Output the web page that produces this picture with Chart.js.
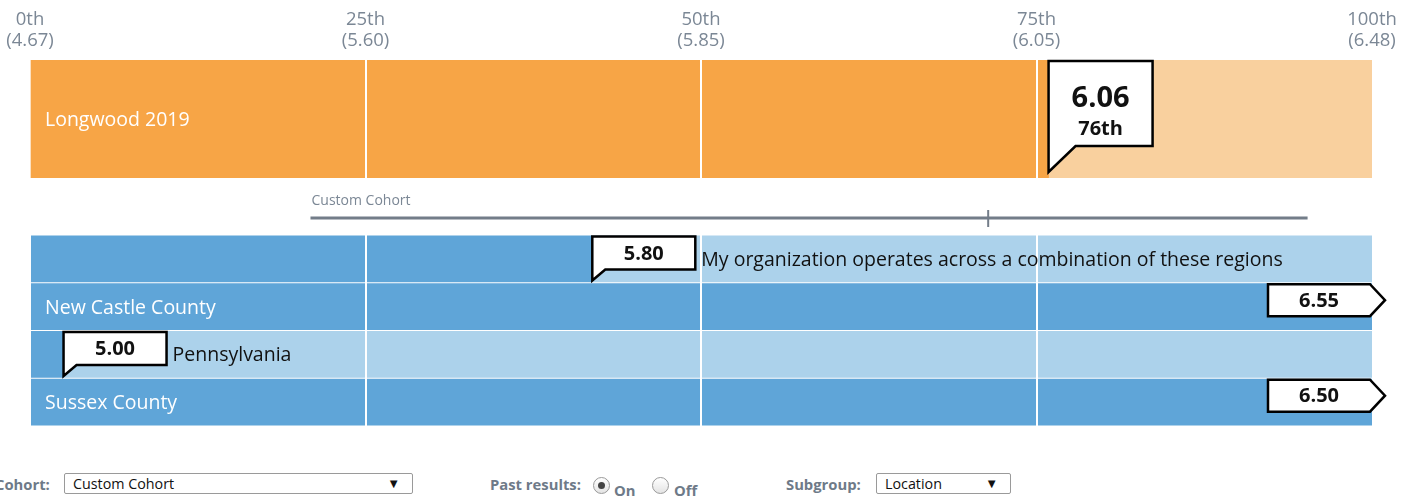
<!DOCTYPE html>
<html>
<head>
<meta charset="utf-8">
<script src="https://cdn.jsdelivr.net/npm/chart.js@4"></script>
<style>
  body { margin: 0; width: 1411px; height: 497px; overflow: hidden; background: #fff; font-family: "Open Sans", sans-serif; position: relative; }
  .wrap { position: absolute; left: 0; width: 1411px; }
  .ctl-label { position: absolute; font-size: 14.8px; font-weight: bold; color: #6e7a88; top: 474px; }
  .sel { position: absolute; top: 473px; height: 19px; border: 1px solid #9a9a9a; border-radius: 2px; font-size: 14.3px; line-height: 19px; color: #111; padding-left: 8px; box-sizing: content-box; }
  .sel span { position: absolute; right: 12px; top: 0; font-size: 13px; }
  .radio { position: absolute; top: 477px; width: 15px; height: 15px; border-radius: 50%; border: 1px solid #9a9a9a; background: linear-gradient(#fff, #e4e4e4); }
  .radio.on::after { content: ""; position: absolute; left: 4px; top: 4px; width: 7px; height: 7px; border-radius: 50%; background: #444; }
</style>
</head>
<body>
<div class="wrap" style="top:0;height:178px"><canvas id="orgChart"></canvas></div>
<div class="wrap" style="top:178px;height:248px"><canvas id="cohortChart"></canvas></div>

<div class="ctl-label" style="left:-5px">Cohort:</div>
<div class="sel" style="left:64px;width:339px">Custom Cohort<span>&#9660;</span></div>
<div class="ctl-label" style="left:490px">Past results:</div>
<div class="radio on" style="left:593px"></div>
<div class="ctl-label" style="left:614px;top:480px">On</div>
<div class="radio" style="left:652px"></div>
<div class="ctl-label" style="left:674px;top:480px">Off</div>
<div class="ctl-label" style="left:786px">Subgroup:</div>
<div class="sel" style="left:876px;width:125px">Location<span>&#9660;</span></div>

<script>
// percentile axis
const percentileTicks = [0, 25, 50, 75, 100];
const tickScores = ["4.67", "5.60", "5.85", "6.05", "6.48"];

// organisation bar
const orgLabel = "Longwood 2019";
const orgScore = 6.06;
const orgPercentile = 75.9;

// cohort range line (in percentile units)
const cohortName = "Custom Cohort";
const cohortRange = [20.9, 95.2];
const cohortMarker = 71.4;

// subgroup rows
const rowLabels = [
    "My organization operates across a combination of these regions",
    "New Castle County",
    "Pennsylvania",
    "Sussex County",
];
const rowScores = [5.80, 6.55, 5.00, 6.50];
const rowPercentiles = [41.9, 100, 2.5, 100];

const FONT = '"Open Sans", sans-serif';
const GRAY = "#7b8795";

function quartileGrid(ctx) {
    const v = ctx.tick ? ctx.tick.value : -1;
    return v > 0 && v < 100 ? "#ffffff" : "rgba(0,0,0,0)";
}

// callout with a tail pointing down-left at tipX
function drawTailCallout(c, tipX, top, w, h, tailH, tailW, lines) {
    c.save();
    c.beginPath();
    c.moveTo(tipX, top);
    c.lineTo(tipX + w, top);
    c.lineTo(tipX + w, top + h);
    c.lineTo(tipX + tailW, top + h);
    c.lineTo(tipX, top + h + tailH);
    c.closePath();
    c.fillStyle = "#fff";
    c.fill();
    c.lineWidth = 2.5;
    c.strokeStyle = "#000";
    c.lineJoin = "miter";
    c.stroke();
    c.fillStyle = "#111";
    c.textAlign = "center";
    c.textBaseline = "middle";
    lines.forEach(l => {
        c.font = "bold " + l.size + "px " + FONT;
        c.fillText(l.text, tipX + w / 2, top + l.dy);
    });
    c.restore();
}

// callout with an arrow pointing right (value beyond the axis)
function drawArrowCallout(c, right, top, w, h, text) {
    c.save();
    c.beginPath();
    c.moveTo(right - w, top);
    c.lineTo(right, top);
    c.lineTo(right + 15, top + h / 2);
    c.lineTo(right, top + h);
    c.lineTo(right - w, top + h);
    c.closePath();
    c.fillStyle = "#fff";
    c.fill();
    c.lineWidth = 2.5;
    c.strokeStyle = "#000";
    c.stroke();
    c.fillStyle = "#111";
    c.font = "bold 20px " + FONT;
    c.textAlign = "center";
    c.textBaseline = "middle";
    c.fillText(text, right - w / 2, top + h / 2 + 1);
    c.restore();
}

const orgPlugin = {
    id: "orgLabels",
    afterDraw(chart) {
        const c = chart.ctx;
        const area = chart.chartArea;
        const xs = chart.scales.x;
        const el = chart.getDatasetMeta(0).data[0];
        c.save();
        c.fillStyle = "#fff";
        c.font = "19.5px " + FONT;
        c.textBaseline = "middle";
        c.fillText(orgLabel, area.left + 15, el.y + 1);
        c.restore();
        const tipX = xs.getPixelForValue(orgPercentile);
        drawTailCallout(c, tipX, area.top + 1, 104, 85, 26, 27, [
            { text: orgScore.toFixed(2), size: 29, dy: 38 },
            { text: Math.round(orgPercentile) + "th", size: 20, dy: 68 },
        ]);
    },
};

const cohortPlugin = {
    id: "cohortLabels",
    afterDraw(chart) {
        const c = chart.ctx;
        const area = chart.chartArea;
        const xs = chart.scales.x;
        // cohort range line above the rows
        const x0 = xs.getPixelForValue(cohortRange[0]);
        const x1 = xs.getPixelForValue(cohortRange[1]);
        const xm = xs.getPixelForValue(cohortMarker);
        const ly = area.top - 17;
        c.save();
        c.fillStyle = GRAY;
        c.font = "14px " + FONT;
        c.textBaseline = "middle";
        c.fillText(cohortName, x0 + 1, area.top - 34);
        c.strokeStyle = "#737d89";
        c.lineWidth = 3;
        c.beginPath();
        c.moveTo(x0, ly);
        c.lineTo(x1, ly);
        c.stroke();
        c.lineWidth = 2;
        c.beginPath();
        c.moveTo(xm, ly - 8);
        c.lineTo(xm, ly + 9);
        c.stroke();
        c.restore();

        const meta = chart.getDatasetMeta(0);
        const maxScore = parseFloat(tickScores[tickScores.length - 1]);
        rowLabels.forEach((label, i) => {
            const el = meta.data[i];
            const rowTop = el.y - el.height / 2;
            const tipX = xs.getPixelForValue(Math.min(rowPercentiles[i], 100));
            const arrow = rowScores[i] > maxScore;
            let boxLeft, boxRight;
            if (arrow) {
                drawArrowCallout(c, area.right - 2, rowTop + 1, 102, 32, rowScores[i].toFixed(2));
                boxLeft = area.right - 104;
                boxRight = area.right;
            } else {
                drawTailCallout(c, tipX, rowTop + 1, 103, 33, 11, 13, [
                    { text: rowScores[i].toFixed(2), size: 20, dy: 17.5 },
                ]);
                boxLeft = tipX;
                boxRight = tipX + 103;
            }
            c.save();
            c.font = "19.5px " + FONT;
            c.textBaseline = "middle";
            const w = c.measureText(label).width;
            const inside = area.left + 15 + w + 10 < boxLeft;
            if (inside) {
                c.fillStyle = "#fff";
                c.fillText(label, area.left + 15, el.y + 1.5);
            } else {
                c.fillStyle = "#111";
                c.fillText(label, boxRight + 6, el.y + 1.5);
            }
            c.restore();
        });
    },
};

const xAxisBase = {
    type: "linear",
    min: 0,
    max: 100,
    position: "top",
    z: 1,
    border: { display: false },
    grid: { color: quartileGrid, lineWidth: 2, drawTicks: false, z: 1 },
    afterBuildTicks: axis => {
        axis.ticks = percentileTicks.map(v => ({ value: v }));
    },
    afterFit: axis => {
        axis.paddingLeft = 0;
        axis.paddingRight = 0;
    },
};

new Chart(document.getElementById("orgChart"), {
    type: "bar",
    data: {
        labels: [orgLabel],
        datasets: [
            { data: [orgPercentile], backgroundColor: "#f7a546" },
            { data: [100 - orgPercentile], backgroundColor: "#f9d09e" },
        ],
    },
    options: {
        indexAxis: "y",
        responsive: true,
        maintainAspectRatio: false,
        animation: false,
        layout: { padding: { left: 30, right: 39, top: 0, bottom: 0 } },
        datasets: { bar: { barPercentage: 1, categoryPercentage: 1 } },
        plugins: { legend: { display: false }, tooltip: { enabled: false } },
        scales: {
            x: {
                ...xAxisBase,
                stacked: true,
                ticks: {
                    color: GRAY,
                    font: { family: FONT, size: 18.5, lineHeight: "21px" },
                    padding: 9,
                    maxRotation: 0,
                    autoSkip: false,
                    callback: (v) => {
                        const i = percentileTicks.indexOf(v);
                        return [v + "th", "(" + tickScores[i] + ")"];
                    },
                },
            },
            y: { display: false, stacked: true },
        },
    },
    plugins: [orgPlugin],
});

new Chart(document.getElementById("cohortChart"), {
    type: "bar",
    data: {
        labels: rowLabels,
        datasets: [
            { data: rowPercentiles.map(p => Math.min(p, 100)), backgroundColor: "#5fa5d8" },
            { data: rowPercentiles.map(p => 100 - Math.min(p, 100)), backgroundColor: "#acd2eb" },
        ],
    },
    options: {
        indexAxis: "y",
        responsive: true,
        maintainAspectRatio: false,
        animation: false,
        layout: { padding: { left: 30, right: 39, top: 57, bottom: 0 } },
        datasets: { bar: { barPercentage: 0.98, categoryPercentage: 1 } },
        plugins: { legend: { display: false }, tooltip: { enabled: false } },
        scales: {
            x: {
                ...xAxisBase,
                stacked: true,
                ticks: { display: false },
            },
            y: { display: false, stacked: true },
        },
    },
    plugins: [cohortPlugin],
});
</script>
</body>
</html>
